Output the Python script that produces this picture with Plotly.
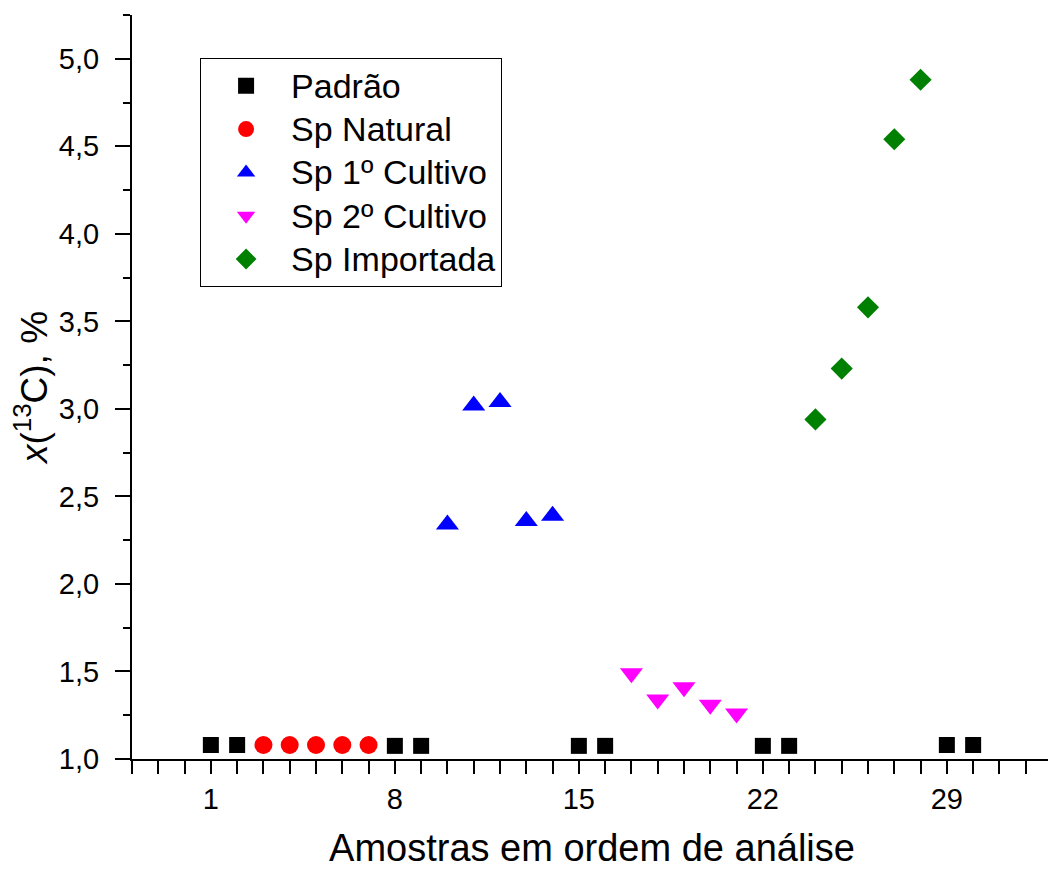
import plotly.graph_objects as go

padrao_x = [1, 2, 8, 9, 15, 16, 22, 23, 29, 30]
padrao_y = [1.08, 1.08, 1.075, 1.075, 1.075, 1.075, 1.075, 1.075, 1.08, 1.08]
natural_x = [3, 4, 5, 6, 7]
natural_y = [1.08, 1.08, 1.08, 1.08, 1.08]
cult1_x = [10, 11, 12, 13, 14]
cult1_y = [2.34, 3.02, 3.04, 2.36, 2.39]
cult2_x = [17, 18, 19, 20, 21]
cult2_y = [1.49, 1.34, 1.41, 1.31, 1.26]
import_x = [24, 25, 26, 27, 28]
import_y = [2.94, 3.23, 3.58, 4.54, 4.88]

x_ticks = [1, 8, 15, 22, 29]

FONT = "Liberation Sans, Arial, sans-serif"

series = [
    ("Padrão", padrao_x, padrao_y, "square", "#000000", 16),
    ("Sp Natural", natural_x, natural_y, "circle", "#ff0000", 18),
    ("Sp 1º Cultivo", cult1_x, cult1_y, "triangle-up", "#0000ff", 20),
    ("Sp 2º Cultivo", cult2_x, cult2_y, "triangle-down", "#ff00ff", 20),
    ("Sp Importada", import_x, import_y, "diamond", "#008000", 17),
]

fig = go.Figure()
for name, xs, ys, sym, col, sz in series:
    fig.add_trace(go.Scatter(
        x=xs, y=ys, mode="markers",
        name=f'<span style="font-size:34px">{name}</span>',
        marker=dict(symbol=sym, color=col, size=sz, line=dict(width=0)),
    ))

fig.update_layout(
    width=1048, height=861,
    paper_bgcolor="white", plot_bgcolor="white",
    margin=dict(l=124, r=4, t=7, b=110),
    separators=",.",
    font=dict(family=FONT, color="black", size=29),
    showlegend=True,
    legend=dict(
        x=0.074, y=0.942, xanchor="left", yanchor="top",
        bordercolor="black", borderwidth=1, bgcolor="white",
        font=dict(size=31, family=FONT),
        itemwidth=80,
    ),
)

fig.update_xaxes(
    range=[-2, 33], showgrid=False, zeroline=False, automargin=False,
    showline=True, linecolor="black", linewidth=2,
    tickmode="array", tickvals=x_ticks,
    ticks="outside", ticklen=13, tickwidth=2, tickcolor="black",
    ticklabelstandoff=0,
    minor=dict(dtick=1, tick0=-2, ticks="outside", ticklen=13, tickwidth=2, tickcolor="black", showgrid=False),
    title=dict(text="Amostras em ordem de análise", font=dict(size=38, family=FONT), standoff=28),
)
fig.update_yaxes(
    range=[1.0, 5.25], showgrid=False, zeroline=False, automargin=False,
    showline=True, linecolor="black", linewidth=2,
    dtick=0.5, tick0=1.0, tickformat=".1f",
    ticks="outside", ticklen=15, tickwidth=2, tickcolor="black",
    ticklabelstandoff=10,
    minor=dict(dtick=0.25, tick0=1.0, ticks="outside", ticklen=7, tickwidth=2, tickcolor="black", showgrid=False),
    title=dict(text="<i>x</i>(<sup>13</sup>C), %", font=dict(size=37, family=FONT), standoff=8),
)

fig.write_html("out.html")
